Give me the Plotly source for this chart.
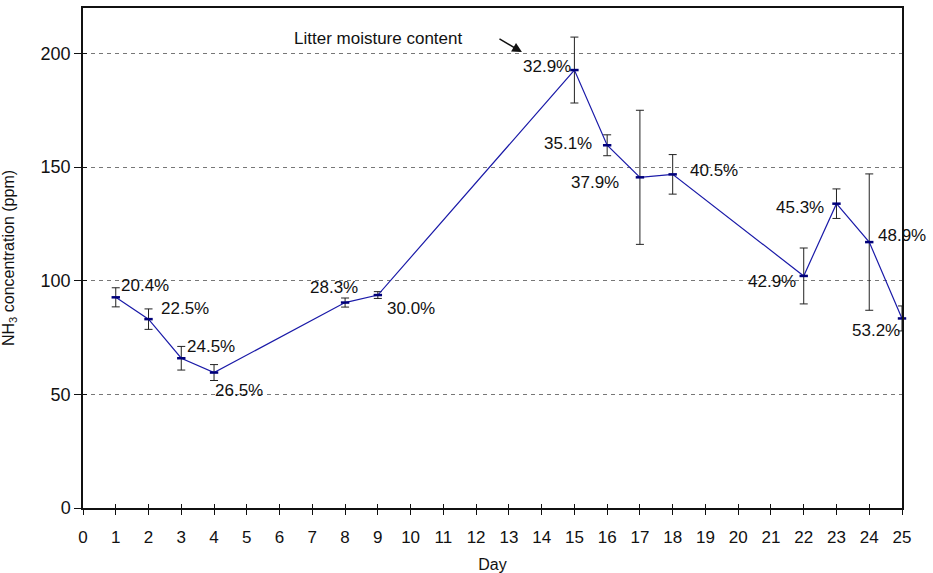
import plotly.graph_objects as go

# Daily NH3 concentration with standard deviation and litter moisture content
days = [1, 2, 3, 4, 8, 9, 15, 16, 17, 18, 22, 23, 24, 25]
nh3_ppm = [92.7, 83.1, 65.9, 59.6, 90.4, 93.7, 192.7, 159.6, 145.5, 146.8, 102.1, 133.9, 117.0, 83.4]
nh3_sd = [4.2, 4.5, 5.2, 3.5, 2.0, 1.5, 14.5, 4.6, 29.5, 8.7, 12.3, 6.5, 30.0, 5.5]
moisture = ["20.4%", "22.5%", "24.5%", "26.5%", "28.3%", "30.0%", "32.9%",
            "35.1%", "37.9%", "40.5%", "42.9%", "45.3%", "48.9%", "53.2%"]

x_ticks = list(range(0, 26))
y_ticks = [0, 50, 100, 150, 200]

# label placement around each point: (xanchor, xshift px, yshift px)
label_pos = [("left", 3, 12), ("left", 10, 11), ("left", 4, 12), ("left", -1, -18),
             ("right", 15, 15), ("left", 7, -13), ("right", -1, 4), ("right", -13, 2),
             ("right", -19, -5), ("left", 15, 4), ("right", -6, -6), ("right", -10, -4),
             ("left", 7, 7), ("right", 0, -12)]

FONT = "Liberation Sans, Arial, sans-serif"

fig = go.Figure()

fig.add_trace(go.Scatter(
    x=days, y=nh3_ppm,
    mode="lines+markers",
    line=dict(color="#1a1aa8", width=1.2),
    marker=dict(symbol="line-ew", size=6, line=dict(color="#00007a", width=2.5)),
    error_y=dict(type="data", array=nh3_sd, visible=True,
                 color="#222222", thickness=1, width=4),
    showlegend=False,
    cliponaxis=False,
))

# invisible trace so the inner-tick overlay axes get drawn
fig.add_trace(go.Scatter(x=[0], y=[0], xaxis="x2", yaxis="y2",
                         mode="markers", marker=dict(opacity=0),
                         showlegend=False, hoverinfo="skip"))

annotations = []
for d, v, txt, (anc, dx, dy) in zip(days, nh3_ppm, moisture, label_pos):
    annotations.append(dict(
        x=d, y=v, xref="x", yref="y", text=txt, showarrow=False,
        xanchor=anc, yanchor="middle", xshift=dx, yshift=dy,
        font=dict(family=FONT, size=17, color="#111111"),
    ))

annotations.append(dict(
    x=9.0, y=206.8, xref="x", yref="y", text="Litter moisture content",
    showarrow=False, xanchor="center", yanchor="middle",
    font=dict(family=FONT, size=17, color="#111111"),
))
annotations.append(dict(
    x=13.4, y=200.6, xref="x", yref="y", text="", showarrow=True,
    ax=-24, ay=-14, arrowhead=2, arrowsize=1.3, arrowwidth=1.5,
    arrowcolor="#111111",
))

fig.update_layout(
    width=933, height=573,
    margin=dict(l=82.5, r=30.5, t=8, b=65),
    paper_bgcolor="white", plot_bgcolor="white",
    font=dict(family=FONT, size=16, color="#111111"),
    annotations=annotations,
    xaxis=dict(
        range=[0, 25], tickvals=x_ticks, ticktext=[str(t) for t in x_ticks],
        ticks="outside", ticklen=5, tickcolor="#111111",
        showline=True, linecolor="#111111", linewidth=2, mirror=True,
        showgrid=False, zeroline=False, automargin=False,
        tickfont=dict(size=17), ticklabelstandoff=8,
        title=dict(text="Day", font=dict(size=16), standoff=12),
    ),
    yaxis=dict(
        range=[0, 220], tickvals=y_ticks,
        ticks="outside", ticklen=7, tickcolor="#111111",
        showline=True, linecolor="#111111", linewidth=1.5, mirror=True,
        showgrid=True, gridcolor="#777777", griddash="4px,4px", gridwidth=1,
        zeroline=False, automargin=False, tickfont=dict(size=18),
        title=dict(text="NH<sub>3</sub> concentration (ppm)", font=dict(size=16), standoff=22),
    ),
    xaxis2=dict(
        range=[0, 25], tickvals=x_ticks, overlaying="x", side="bottom",
        ticks="inside", ticklen=4, tickcolor="#111111", automargin=False,
        showticklabels=False, showgrid=False, zeroline=False, showline=False,
    ),
    yaxis2=dict(
        range=[0, 220], tickvals=y_ticks, overlaying="y", side="left",
        ticks="inside", ticklen=4, tickcolor="#111111", automargin=False,
        showticklabels=False, showgrid=False, zeroline=False, showline=False,
    ),
)

fig.write_html("out.html")
